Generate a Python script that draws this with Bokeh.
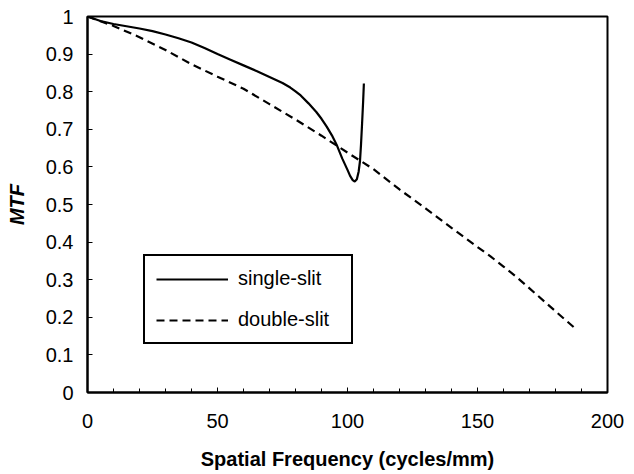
from bokeh.plotting import figure
from bokeh.models import (Range1d, FixedTicker, CustomJSTickFormatter, Legend,
                          LegendItem, ColumnDataSource)
from bokeh.embed import file_html
from bokeh.resources import INLINE

# MTF curves measured with the single-slit and double-slit methods
single_freq = [0, 5, 10, 15, 20, 25, 30, 35, 40, 45, 50, 55, 60, 65, 70, 75,
               78, 80, 82, 85, 88, 90, 92, 94, 96, 98, 100, 101, 102, 102.8,
               103.6, 104.3, 104.8, 105.2, 105.6, 106.0, 106.3]
single_mtf = [1.0, 0.988, 0.980, 0.974, 0.968, 0.961, 0.952, 0.942, 0.931,
              0.916, 0.900, 0.885, 0.870, 0.855, 0.839, 0.823, 0.811, 0.801,
              0.790, 0.769, 0.746, 0.728, 0.707, 0.684, 0.656, 0.622, 0.592,
              0.576, 0.565, 0.561, 0.567, 0.588, 0.615, 0.660, 0.714, 0.772,
              0.822]

double_freq = [0, 10, 20, 30, 40, 50, 60, 70, 80, 90, 100, 110, 120, 130,
               140, 150, 155, 160, 165, 170, 180, 188]
double_mtf = [1.0, 0.975, 0.945, 0.911, 0.873, 0.840, 0.808, 0.767, 0.726,
              0.683, 0.638, 0.594, 0.540, 0.490, 0.438, 0.387, 0.362, 0.335,
              0.307, 0.277, 0.216, 0.168]

x_ticks = [0, 50, 100, 150, 200]
x_minor = [10, 20, 30, 40, 60, 70, 80, 90, 110, 120, 130, 140, 160, 170, 180, 190]
y_ticks = [0, 0.1, 0.2, 0.3, 0.4, 0.5, 0.6, 0.7, 0.8, 0.9, 1]

FONT = "Liberation Sans"

p = figure(width=634, height=474, output_backend="svg", toolbar_location=None,
           x_range=Range1d(0, 200), y_range=Range1d(0, 1),
           min_border_left=87, min_border_right=27, min_border_top=16,
           min_border_bottom=82)
p.background_fill_color = "white"
p.border_fill_color = "white"
p.outline_line_color = "black"
p.outline_line_width = 2
p.outline_line_alpha = 1
p.xgrid.visible = False
p.ygrid.visible = False

single_src = ColumnDataSource(dict(x=single_freq, y=single_mtf))
double_src = ColumnDataSource(dict(x=double_freq, y=double_mtf))

r_single = p.line("x", "y", source=single_src, line_color="black", line_width=2.2)
r_double = p.line("x", "y", source=double_src, line_color="black", line_width=2.2,
                  line_dash="8 5")

# axes
xa = p.xaxis[0]
xa.ticker = FixedTicker(ticks=x_ticks, minor_ticks=x_minor)
xa.axis_label = "Spatial Frequency (cycles/mm)"
ya = p.yaxis[0]
ya.ticker = FixedTicker(ticks=y_ticks)
ya.formatter = CustomJSTickFormatter(code="return String(Math.round(tick * 10) / 10);")
ya.axis_label = "MTF"

for ax in (xa, ya):
    ax.axis_line_color = "black"
    ax.axis_line_width = 2
    ax.major_tick_line_color = "black"
    ax.major_tick_in = 5
    ax.major_tick_out = 0
    ax.minor_tick_line_color = "black"
    ax.minor_tick_in = 4
    ax.minor_tick_out = 0
    ax.major_label_text_font = FONT
    ax.major_label_text_font_size = "20px"
    ax.major_label_text_color = "black"
    ax.axis_label_text_font = FONT
    ax.axis_label_text_font_size = "20px"
    ax.axis_label_text_color = "black"

ya.minor_tick_line_color = None
xa.major_label_standoff = 21
xa.axis_label_standoff = 17
xa.axis_label_text_font_style = "bold"
ya.major_label_standoff = 14
ya.axis_label_standoff = 15
ya.axis_label_text_font_style = "bold italic"

legend = Legend(items=[LegendItem(label="single-slit", renderers=[r_single]),
                       LegendItem(label="double-slit", renderers=[r_double])],
                location=(56, 48))
legend.border_line_color = "black"
legend.border_line_width = 2
legend.border_line_alpha = 1
legend.background_fill_color = "white"
legend.background_fill_alpha = 1
legend.label_text_font = FONT
legend.label_text_font_size = "20px"
legend.label_text_color = "black"
legend.glyph_width = 72
legend.glyph_height = 20
legend.label_height = 20
legend.label_width = 102
legend.label_standoff = 10
legend.spacing = 18
legend.padding = 11
legend.margin = 0
p.add_layout(legend, "center")

open("out.html", "w").write(file_html(p, INLINE))
